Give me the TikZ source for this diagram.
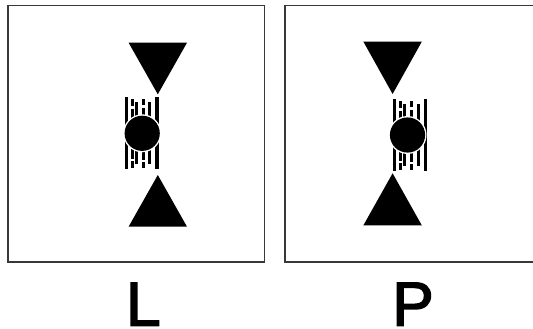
\documentclass[tikz,border=0pt]{standalone}
\usepackage{fontspec}
\setmainfont{Liberation Sans}
\newfontfamily\labfont[FakeBold=2.5]{Liberation Sans}
\newcommand\gaugesym[1]{%
  % outer full bars
  \fill[barfill] (0,0) rectangle (3.4,72);
  \fill[barfill] (30.6,0) rectangle (34,72);
  % inner ruler bars
  \foreach \xa/\xb in {6.2/9.0,10.2/13.0,17.2/20.4,23.6/26.6} {
    \fill[barfill] (\xa,1.5) rectangle (\xb,70.5);
  }
  % notches in the inner bars
  \fill[white] (6,9) rectangle (9.2,11.5);
  \fill[white] (6,61.5) rectangle (9.2,64);
  \fill[white] (10,1.4) rectangle (13.2,4.5);
  \fill[white] (10,67) rectangle (13.2,70.6);
  \fill[white] (17,8) rectangle (20.6,10.5);
  \fill[white] (17,62.5) rectangle (20.6,65);
  \fill[white] (23.4,1.4) rectangle (26.8,5);
  \fill[white] (23.4,66.5) rectangle (26.8,70.6);
  % centre disc with white halo
  \fill[white] (#1,36) circle (19);
  \fill[black] (#1,36) circle (17.6);
}
\begin{document}
\begin{tikzpicture}[x=1pt,y=-1pt,
  frame/.style={draw=black!78,line width=1.2pt},
  tri/.style={fill=black},
  barfill/.style={fill=black},
  letter/.style={font=\labfont\fontsize{62}{62}\selectfont,inner sep=0pt,anchor=base,text depth=0pt}]
\useasboundingbox (0,0) rectangle (533,329);
% frames
\draw[frame] (8,5.5) rectangle (264.5,262);
\draw[frame] (285,5.5) rectangle (535,262);
% left symbol (L)
\fill[tri] (128.6,42.7) -- (187,42.7) -- (157.8,94.3) -- cycle;
\fill[tri] (157.8,175) -- (187,226.7) -- (128.6,226.7) -- cycle;
\begin{scope}[shift={(124.5,97.3)}]
  \gaugesym{17.7}
\end{scope}
% right symbol (P)
\fill[tri] (363.4,41.7) -- (421.8,41.7) -- (392.6,94) -- cycle;
\fill[tri] (392.6,173.3) -- (421.8,225.3) -- (363.4,225.3) -- cycle;
\begin{scope}[shift={(392.9,99)}]
  \gaugesym{14.6}
\end{scope}
% labels
\node[letter] (labL) at (143.3,325.5) {L};
\node[letter] (labP) at (413,325.5) {P};
\end{tikzpicture}
\end{document}
